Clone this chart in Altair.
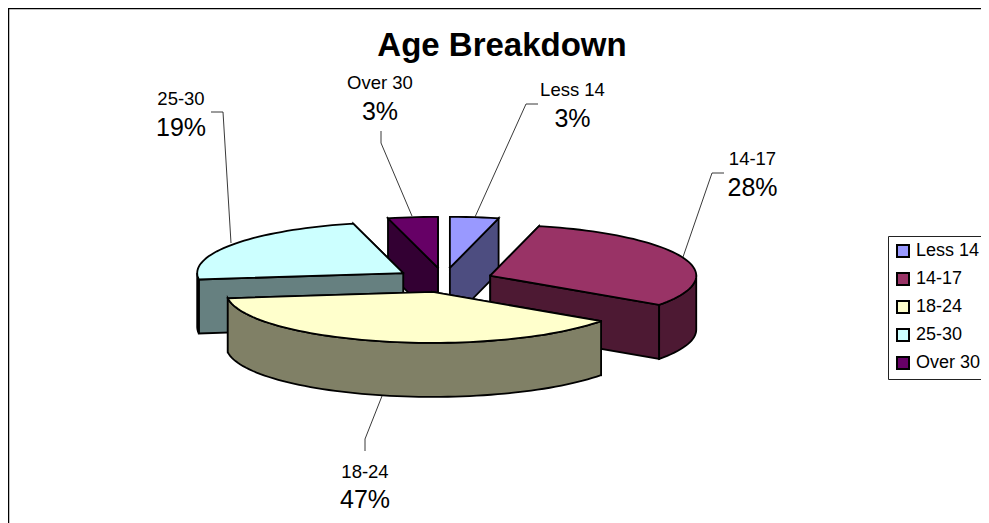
import math
import altair as alt
import pandas as pd

categories = ["Less 14", "14-17", "18-24", "25-30", "Over 30"]
percents = [3, 28, 47, 19, 3]
# share of the pie each slice is drawn with
drawn_shares = [3.8, 30.9, 38.3, 23.1, 3.9]
top_colors = ["#9999FF", "#993366", "#FFFFCC", "#CCFFFF", "#660066"]
wall_colors = ["#4D4D80", "#4D1933", "#808066", "#668080", "#330033"]
draw_order = [4, 0, 3, 1, 2]

# layout, in screen pixels
CX, CY, RX, RY, DEPTH, EXPLODE = 444, 280, 206, 51, 54, 0.24
W, H = 973, 515


def pt(ax, ay, deg):
    r = math.radians(deg)
    return ax + RX * math.sin(r), ay - RY * math.cos(r)


edges = [0]
for s in drawn_shares:
    edges.append(edges[-1] + s * 3.6 * 100 / sum(drawn_shares))

rows = []
face_id = [0]


def add_face(points, fill):
    face_id[0] += 1
    closed = points + [points[0]]
    for n, (x, y) in enumerate(closed):
        rows.append({"face": face_id[0], "n": n, "x": x, "y": y, "fill": fill})


for i in draw_order:
    a0, a1 = edges[i], edges[i + 1]
    mid = (a0 + a1) / 2
    ax = CX + EXPLODE * RX * math.sin(math.radians(mid))
    ay = CY - EXPLODE * RY * math.cos(math.radians(mid))
    wall, top = wall_colors[i], top_colors[i]
    # radial walls, the one further back first
    for a in sorted((a0, a1), key=lambda d: pt(ax, ay, d)[1]):
        p = pt(ax, ay, a)
        add_face([(ax, ay), p, (p[0], p[1] + DEPTH), (ax, ay + DEPTH)], wall)
    # outer wall on the front half
    lo, hi = max(a0, 90), min(a1, 270)
    if lo < hi:
        steps = max(2, int((hi - lo) / 2))
        arc = [pt(ax, ay, lo + (hi - lo) * k / steps) for k in range(steps + 1)]
        add_face(arc + [(x, y + DEPTH) for x, y in reversed(arc)], wall)
    # top
    steps = max(2, int((a1 - a0) / 2))
    add_face([(ax, ay)] + [pt(ax, ay, a0 + (a1 - a0) * k / steps) for k in range(steps + 1)], top)

faces = pd.DataFrame(rows)

xs = alt.Scale(domain=[8, 8 + W], range=[0, W])
ys = alt.Scale(domain=[8 + H, 8], range=[H, 0])
X = lambda f="x": alt.X(f"{f}:Q", scale=xs, axis=None)
Y = lambda f="y": alt.Y(f"{f}:Q", scale=ys, axis=None)

pie = alt.Chart(faces).mark_line(stroke="black", strokeWidth=1.8, strokeJoin="miter", strokeCap="square").encode(
    x=X(), y=Y(),
    detail="face:O",
    order="n:Q",
    fill=alt.Fill("fill:N", scale=None),
)

leader_paths = {
    "25-30": [(211, 112), (223, 112), (231, 243)],
    "Over 30": [(381, 131), (381, 143), (412, 216)],
    "Less 14": [(538, 104), (526, 104), (475, 217)],
    "14-17": [(724, 173), (712, 173), (683, 257)],
    "18-24": [(382, 396), (365, 439), (365, 451)],
}
leader_df = pd.DataFrame([
    {"cat": c, "n": n, "x": x, "y": y}
    for c, path in leader_paths.items() for n, (x, y) in enumerate(path)
])
leaders = alt.Chart(leader_df).mark_line(stroke="#222222", strokeWidth=0.9).encode(
    x=X(), y=Y(), detail="cat:N", order="n:Q")

label_pos = {
    "Less 14": (572.5, 96, 127),
    "14-17": (752.5, 165, 196),
    "18-24": (365, 478, 508),
    "25-30": (181, 105, 136),
    "Over 30": (380, 89, 120),
}
name_df = pd.DataFrame([{"t": c, "x": label_pos[c][0], "y": label_pos[c][1]} for c in categories])
pct_df = pd.DataFrame([{"t": f"{p}%", "x": label_pos[c][0], "y": label_pos[c][2]}
                       for c, p in zip(categories, percents)])
names = alt.Chart(name_df).mark_text(font="Liberation Sans", fontSize=18.5, baseline="alphabetic", color="black", align="center").encode(
    x=X(), y=Y(), text="t:N")
pcts = alt.Chart(pct_df).mark_text(font="Liberation Sans", fontSize=25, baseline="alphabetic", color="black", align="center").encode(
    x=X(), y=Y(), text="t:N")

title = alt.Chart(pd.DataFrame([{"t": "Age Breakdown", "x": 502, "y": 56}])).mark_text(
    font="Liberation Sans", fontSize=33, fontWeight="bold", baseline="alphabetic", align="center", color="black"
).encode(x=X(), y=Y(), text="t:N")

frame = alt.Chart(pd.DataFrame([
    {"n": 0, "x": 8.5, "y": 8 + H}, {"n": 1, "x": 8.5, "y": 8.5}, {"n": 2, "x": 8 + W, "y": 8.5}
])).mark_line(stroke="black", strokeWidth=1.5).encode(x=X(), y=Y(), order="n:Q")

legend_host = alt.Chart(pd.DataFrame({"cat": categories, "x": [500] * 5, "y": [250] * 5})).mark_square(opacity=0).encode(
    x=X(), y=Y(),
    fill=alt.Fill("cat:N", scale=alt.Scale(domain=categories, range=top_colors), legend=alt.Legend(
        title=None, orient="none", legendX=880, legendY=228, symbolType="square", symbolSize=144,
        symbolOpacity=1, symbolStrokeColor="black", symbolStrokeWidth=2, labelFont="Liberation Sans",
        labelFontSize=18, labelColor="black", labelOffset=4, rowPadding=8, padding=6,
        strokeColor="#222222", labelLimit=200, symbolOffset=0,
    )),
)

chart = alt.layer(frame, pie, leaders, names, pcts, title, legend_host).properties(
    width=W, height=H, padding=0,
    autosize=alt.AutoSizeParams(type="none"),
    background="white",
).configure_view(stroke=None)

chart.save("out.html", embed_options={"renderer": "svg", "actions": False})
